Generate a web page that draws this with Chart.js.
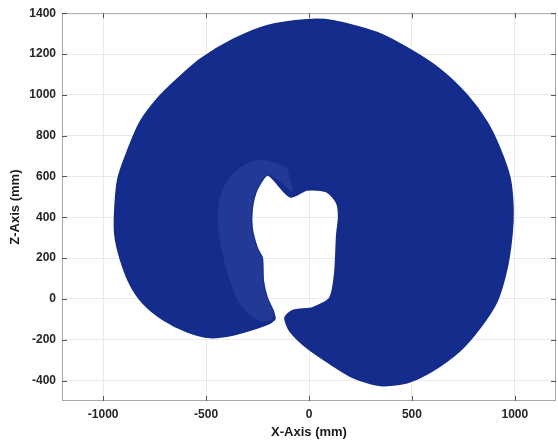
<!DOCTYPE html>
<html>
<head>
<meta charset="utf-8">
<script src="https://cdn.jsdelivr.net/npm/chart.js@4.4.1/dist/chart.umd.min.js"></script>
<style>
  html, body { margin: 0; padding: 0; background: #fff; }
  #wrap { width: 558px; height: 444px; }
</style>
</head>
<body>
<div id="wrap"><canvas id="ws"></canvas></div>
<script>
// ── Data: workspace boundary (X, Z in mm) ────────────────────────────────────
// outer edge clockwise from the left lobe tip, then back in through the slit
// and around the inner void
const boundaryX = [
  -165, -189, -252, -369, -481, -592, -709, -806, -869, -917, -942, -942,
  -927, -883, -820, -738, -641, -529, -369, -204, -10, 117, 330, 490, 636,
  767, 864, 927, 976, 990, 985, 961, 913, 830, 733, 602, 476, 345, 214, 102,
  -10, -92, -116,
  -78, 19, 102, 126, 136, 145, 136, 87, -10, -92, -199, -252, -277, -277,
  -252, -228, -223, -204, -175, -165
];
const boundaryZ = [
  -97, -117, -141, -175, -188, -160, -100, -20, 73, 200, 316, 443,
  589, 720, 866, 978, 1075, 1173, 1270, 1338, 1367, 1362, 1304, 1221, 1124,
  998, 866, 735, 589, 443, 316, 151, -10, -141, -253, -350, -409, -423, -384, -316,
  -238, -156, -92,
  -58, -44, 5, 122, 316, 400, 470, 526, 535, 501, 608, 540, 443, 345,
  248, 200, 88, 5, -58, -97
];

// sparser (lighter) crescent of points hugging the left side of the void
const sparseX = [
  -107, -238, -350, -422, -442, -422, -383, -335, -262, -189,
  -175, -204, -223, -228, -252, -277, -277, -252, -199, -141, -82, -107
];
const sparseZ = [
  647, 681, 633, 526, 380, 234, 88, -24, -97, -107,
  -58, 5, 88, 200, 248, 345, 443, 540, 608, 574, 526, 647
];

const xTicks = [-1000, -500, 0, 500, 1000];
const zTicks = [-400, -200, 0, 200, 400, 600, 800, 1000, 1200, 1400];

const BLUE = '#142c8c';
const font = { family: '"Liberation Sans", Arial, sans-serif', size: 12, weight: 'bold' };
const toPts = (xs, zs) => xs.map((x, i) => ({ x, y: zs[i] }));

// ── Box + inward tick marks (MATLAB style) ───────────────────────────────────
const boxPlugin = {
  id: 'box',
  afterDraw(chart) {
    const { ctx, chartArea: a, scales } = chart;
    ctx.save();
    ctx.strokeStyle = '#a8a8a8';
    ctx.lineWidth = 1;
    ctx.strokeRect(a.left + 0.5, a.top + 0.5, a.right - a.left - 1, a.bottom - a.top - 1);
    ctx.strokeStyle = '#555';
    ctx.beginPath();
    xTicks.forEach(v => {
      const px = Math.round(scales.x.getPixelForValue(v)) + 0.5;
      ctx.moveTo(px, a.bottom); ctx.lineTo(px, a.bottom - 5);
      ctx.moveTo(px, a.top); ctx.lineTo(px, a.top + 5);
    });
    zTicks.forEach(v => {
      const py = Math.round(scales.y.getPixelForValue(v)) + 0.5;
      ctx.moveTo(a.left, py); ctx.lineTo(a.left + 5, py);
      ctx.moveTo(a.right, py); ctx.lineTo(a.right - 5, py);
    });
    ctx.stroke();
    ctx.restore();
  }
};

new Chart(document.getElementById('ws'), {
  type: 'scatter',
  data: {
    datasets: [{
      data: toPts(sparseX, sparseZ),
      order: 0,
      showLine: true,
      fill: 'shape',
      backgroundColor: 'rgba(120,140,205,0.14)',
      borderWidth: 0,
      tension: 0.4,
      pointRadius: 0
    }, {
      data: toPts(boundaryX, boundaryZ),
      order: 1,
      showLine: true,
      fill: 'shape',
      backgroundColor: BLUE,
      borderColor: BLUE,
      borderWidth: 2,
      tension: 0.25,
      pointRadius: 0
    }]
  },
  options: {
    responsive: true,
    maintainAspectRatio: false,
    animation: false,
    layout: { padding: { top: 10, right: 2, left: 0, bottom: 0 } },
    plugins: { legend: { display: false }, tooltip: { enabled: false } },
    scales: {
      x: {
        type: 'linear', min: -1200, max: 1200,
        afterFit: s => { s.height = 43; },
        afterBuildTicks: s => { s.ticks = xTicks.map(value => ({ value })); },
        grid: { color: '#e9e9e9', drawTicks: false },
        border: { display: false },
        ticks: { padding: 6, color: '#262626', font, maxRotation: 0, autoSkip: false, callback: v => String(v) },
        title: { display: true, text: 'X-Axis (mm)', color: '#1a1a1a', padding: { top: 0, bottom: 4 },
                 font: { family: font.family, size: 13, weight: 'bold' } }
      },
      y: {
        type: 'linear', min: -500, max: 1400,
        afterFit: s => { s.width = 62; },
        afterBuildTicks: s => { s.ticks = zTicks.map(value => ({ value })); },
        grid: { color: '#e9e9e9', drawTicks: false },
        border: { display: false },
        ticks: { padding: 6, color: '#262626', font, autoSkip: false, callback: v => String(v) },
        title: { display: true, text: 'Z-Axis (mm)', color: '#1a1a1a', padding: { top: 8, bottom: 0 },
                 font: { family: font.family, size: 13, weight: 'bold' } }
      }
    }
  },
  plugins: [boxPlugin]
});
</script>
</body>
</html>
